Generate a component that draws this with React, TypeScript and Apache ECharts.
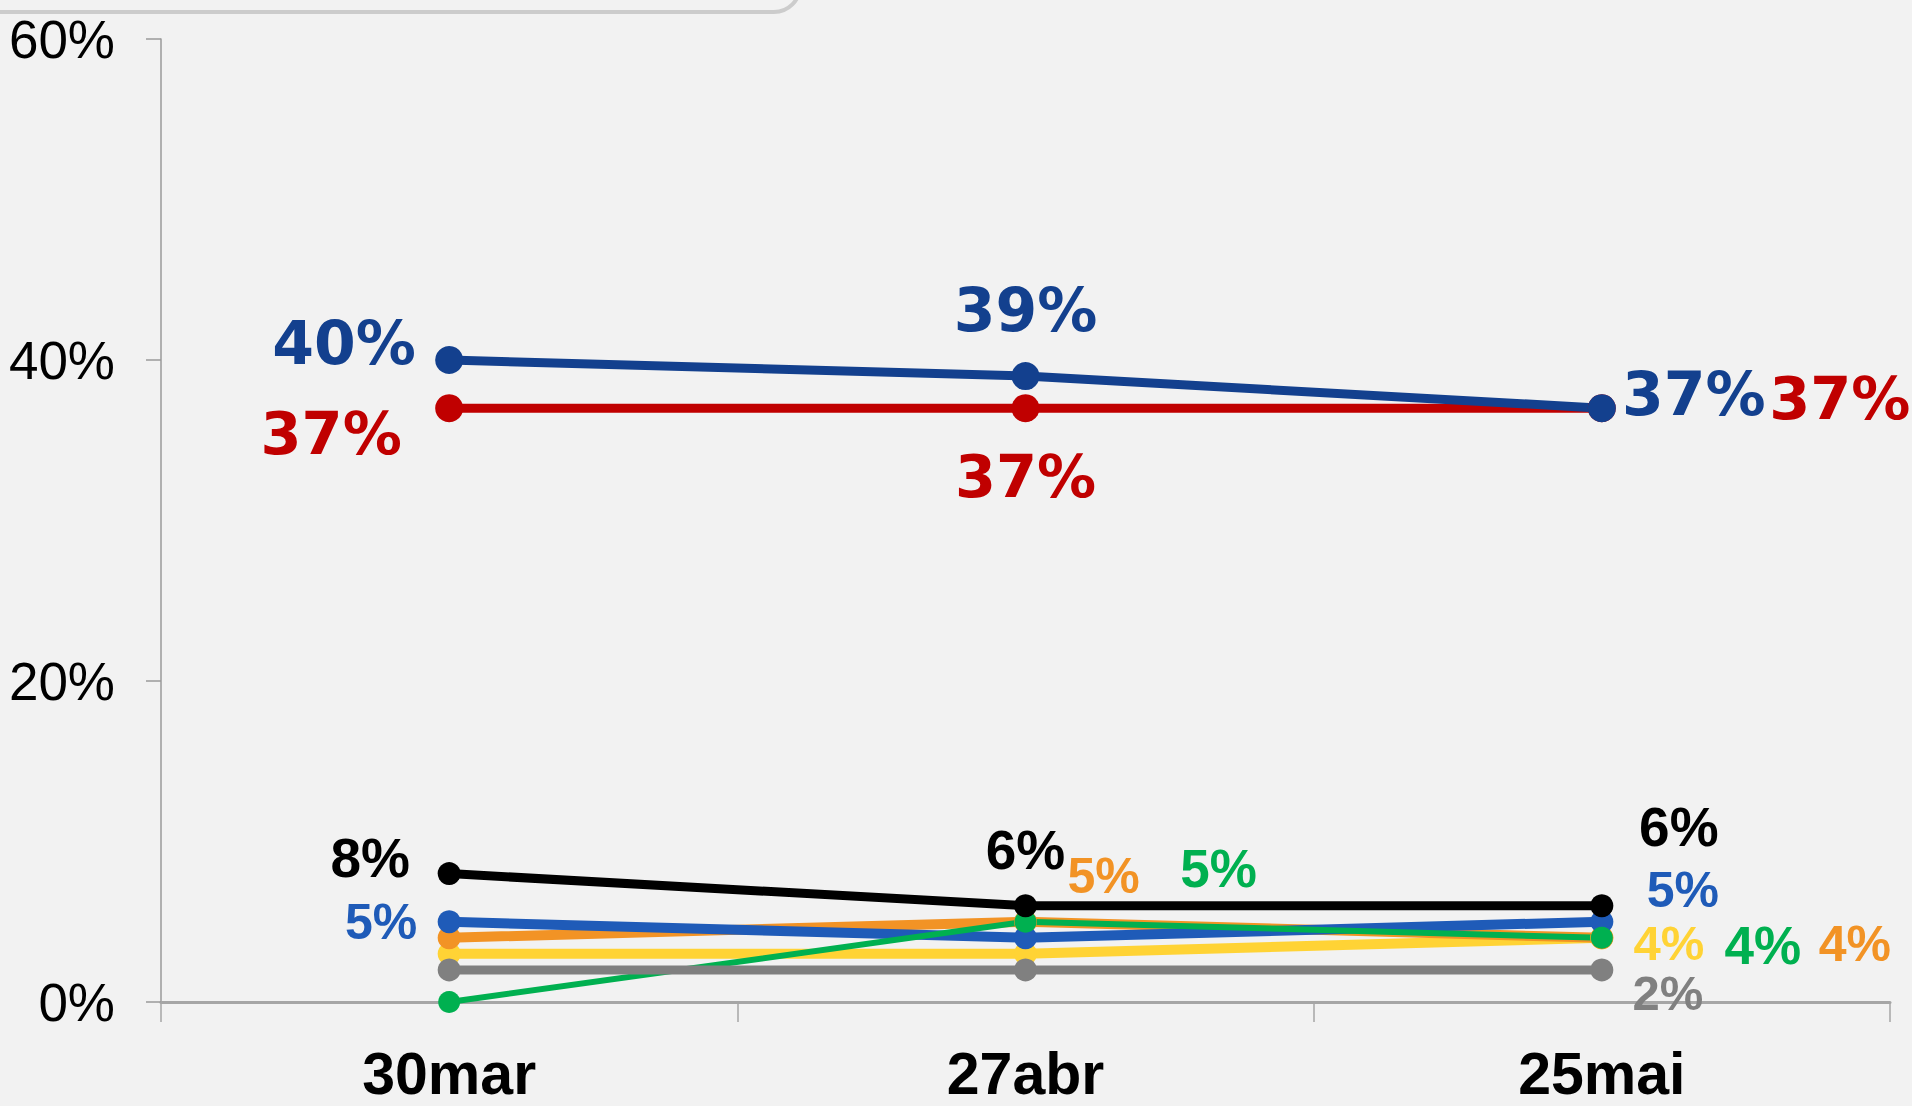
import React, { useEffect, useRef } from 'react';
import * as echarts from 'echarts';

const categories = ['30mar', '27abr', '25mai'];
const yMax = 60;
const yStep = 20;

const darkBlueValues = [40, 39, 37];
const redValues = [37, 37, 37];
const blackValues = [8, 6, 6];
const blueValues = [5, 4, 5];
const orangeValues = [4, 5, 4];
const yellowValues = [3, 3, 4];
const grayValues = [2, 2, 2];
const greenValues = [0, 5, 4];

type Off = [number, number] | null;

interface SeriesStyle {
  name: string;
  values: number[];
  color: string;
  width: number;
  symbolSize: number;
  font: string;
  fontSize: number;
  offsets: Off[];
}

const BIG = 'DejaVu Sans';
const SMALL = 'Liberation Sans';

const seriesStyles: SeriesStyle[] = [
  { name: 'amarelo', values: yellowValues, color: '#ffd335', width: 10, symbolSize: 23, font: SMALL, fontSize: 49, offsets: [null, null, [67, 5]] },
  { name: 'laranja', values: orangeValues, color: '#f29325', width: 10, symbolSize: 23, font: SMALL, fontSize: 50, offsets: [null, [78, -46], [253, 6]] },
  { name: 'azul', values: blueValues, color: '#1f5bb8', width: 10, symbolSize: 23, font: SMALL, fontSize: 50, offsets: [[-68, 0], null, [81, -32]] },
  { name: 'verde', values: greenValues, color: '#00b050', width: 6, symbolSize: 22, font: SMALL, fontSize: 53, offsets: [null, [193, -53], [161, 8]] },
  { name: 'cinza', values: grayValues, color: '#808080', width: 9, symbolSize: 23, font: SMALL, fontSize: 49, offsets: [null, null, [66, 23]] },
  { name: 'preto', values: blackValues, color: '#000000', width: 9, symbolSize: 23, font: SMALL, fontSize: 55, offsets: [[-79, -16], [0, -56], [77, -79]] },
  { name: 'vermelho', values: redValues, color: '#c00000', width: 9, symbolSize: 28, font: BIG, fontSize: 59, offsets: [[-118, 25], [0, 68], [238, -10]] },
  { name: 'azulEscuro', values: darkBlueValues, color: '#13408e', width: 9, symbolSize: 28, font: BIG, fontSize: 60, offsets: [[-105, -17], [0, -66], [92, -14]] },
];

export default function App() {
  const ref = useRef<HTMLDivElement>(null);

  useEffect(() => {
    document.body.style.margin = '0';
    const chart = echarts.init(ref.current!, undefined, { renderer: 'svg' });

    const series = seriesStyles.map((s) => ({
      name: s.name,
      type: 'line',
      data: s.values.map((v, i) => {
        const off = s.offsets[i];
        return {
          value: v,
          label: off
            ? {
                show: true,
                position: 'inside',
                offset: off,
                align: 'center',
                verticalAlign: 'middle',
                formatter: '{c}%',
                color: s.color,
                fontFamily: s.font,
                fontWeight: 'bold',
                fontSize: s.fontSize,
              }
            : { show: false },
        };
      }),
      symbol: 'circle',
      symbolSize: s.symbolSize,
      itemStyle: { color: s.color },
      lineStyle: { color: s.color, width: s.width },
      emphasis: { disabled: true },
    }));

    chart.setOption({
      animation: false,
      backgroundColor: '#f2f2f2',
      grid: { left: 161, right: 22, top: 39, bottom: 104, containLabel: false },
      xAxis: {
        type: 'category',
        data: categories,
        boundaryGap: true,
        axisLine: { show: true, lineStyle: { color: '#a6a6a6', width: 3 } },
        axisTick: { show: true, length: 20, lineStyle: { color: '#a6a6a6', width: 1.5 } },
        axisLabel: {
          margin: 42,
          color: '#000',
          fontFamily: 'Liberation Sans',
          fontWeight: 'bold',
          fontSize: 59,
        },
        splitLine: { show: false },
      },
      yAxis: {
        type: 'value',
        min: 0,
        max: yMax,
        interval: yStep,
        axisLine: { show: true, lineStyle: { color: '#9a9a9a', width: 1.5 } },
        axisTick: { show: true, length: 15, lineStyle: { color: '#9a9a9a', width: 1.5 } },
        axisLabel: {
          formatter: '{value}%',
          margin: 46,
          color: '#000',
          fontFamily: 'Liberation Sans',
          fontSize: 53,
        },
        splitLine: { show: false },
      },
      graphic: [
        {
          type: 'rect',
          shape: { x: -30, y: -100, width: 830, height: 112, r: 26 },
          style: { fill: '#f2f2f2', stroke: '#cccccc', lineWidth: 4 },
          z: 100,
        },
      ],
      series,
    });

    return () => chart.dispose();
  }, []);

  return (
    <div
      ref={ref}
      style={{ position: 'fixed', left: 0, top: 0, width: 1912, height: 1106 }}
    />
  );
}
